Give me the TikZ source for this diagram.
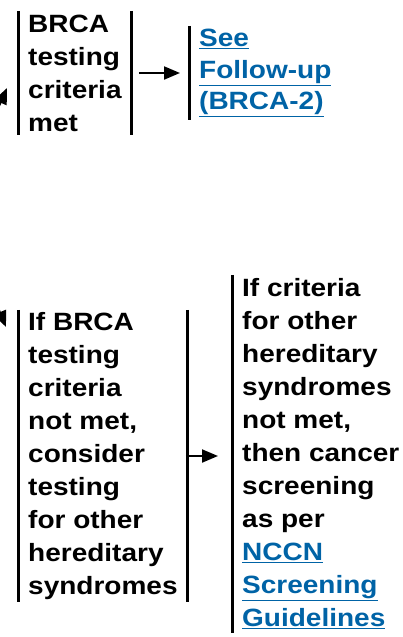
\documentclass[tikz,border=0pt]{standalone}
\usepackage{fontspec}
\setmainfont{Liberation Sans}[FakeStretch=1.12]
\usepackage{tikz}
\usetikzlibrary{arrows.meta}
\definecolor{linkblue}{RGB}{0,99,166}
\newcommand{\lnk}[1]{\textcolor{linkblue}{\underline{#1}}}

\begin{document}
\begin{tikzpicture}[x=1pt,y=-1pt]
						\tikzstyle{box}=[inner xsep=10pt,inner ysep=0pt,align=left,anchor=west,font=\fontsize{25}{33}\selectfont\bfseries]
						\tikzstyle{bar}=[line width=3pt]
						\tikzstyle{arr}=[line width=2pt,-{Triangle[length=16pt,width=13pt]}]
						\useasboundingbox (0,0) rectangle (402,637);
						\clip (0,0) rectangle (402,637);
						\node[box,minimum height=124pt] (1) at (18,73) {BRCA\\testing\\criteria\\met};
						\node[box,minimum height=94pt,font=\fontsize{25}{31.5}\selectfont\bfseries] (2) at (189,73) {\lnk{See}\\\lnk{Follow-up}\\\lnk{(BRCA-2)}};
						\node[box,minimum height=292pt] (3) at (18,456) {If BRCA\\testing\\criteria\\not met,\\consider\\testing\\for other\\hereditary\\syndromes};
						\node[box,minimum height=358pt] (4) at (232,454) {If criteria\\for other\\hereditary\\syndromes\\not met,\\then cancer\\screening\\as per\\\lnk{NCCN}\\\lnk{Screening}\\\lnk{Guidelines}};
						\coordinate (0) at (-45,205);
						\coordinate (a) at (7,88);
						\coordinate (b) at (6,327);
						\draw[bar] (1.north west) -- (1.south west);
						\draw[bar] (1.north east) -- (1.south east);
						\draw[bar] (2.north west) -- (2.south west);
						\draw[bar] (3.north west) -- (3.south west);
						\draw[bar] (3.north east) -- (3.south east);
						\draw[bar] (4.north west) -- (4.south west);
						\draw[arr,shorten <=7pt,shorten >=9pt] (1) -- (2);
						\draw[arr,shorten <=-2pt,shorten >=14pt] (3.east) -- (3.east -| 4.west);
						\draw[arr] (0) -- (a);
						\draw[arr] (0) -- (b);
						\end{tikzpicture}
\end{document}
